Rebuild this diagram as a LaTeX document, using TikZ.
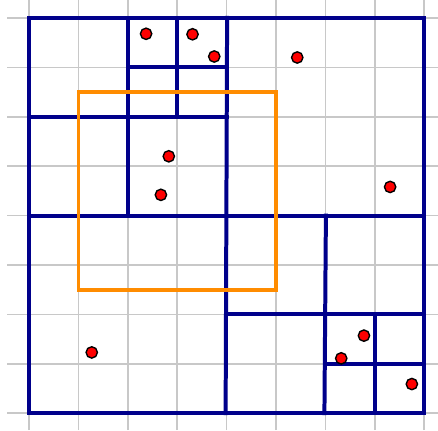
\documentclass[tikz,border=0pt]{standalone}
\usetikzlibrary{calc}
\definecolor{gridgray}{RGB}{200,200,200}
\definecolor{qblue}{RGB}{0,0,139}
\definecolor{qorange}{RGB}{255,140,0}
\definecolor{ptred}{RGB}{255,0,0}
\tikzset{
  gridline/.style={draw=gridgray, line width=0.9pt},
  qline/.style={draw=qblue, line width=2.3pt, line cap=rect},
  query/.style={draw=qorange, line width=2.1pt},
  pt/.style={circle, fill=ptred, draw=black, line width=0.8pt, minimum size=0.23cm, inner sep=0pt},
}
\begin{document}
\begin{tikzpicture}[x=1cm,y=1cm]
\useasboundingbox (-0.587,-0.343) rectangle (8.279,8.364);
% grid
\foreach \i in {0,...,8} {
  \draw[gridline] (\i,-0.343) -- (\i,8.364);
  \draw[gridline] (-0.445,\i) -- (8.279,\i);
}
% quadtree
\coordinate (bl) at (0,0);
\coordinate (tr) at (8,8);
\draw[qline] (bl) rectangle (tr);
\draw[qline] (3.98,0) -- (4.01,8);
\draw[qline] (0,4) -- (8,4);
\draw[qline] (2,4) -- (2,8);
\draw[qline] (0,6) -- (4,6);
\draw[qline] (3,6) -- (3,8);
\draw[qline] (2,7) -- (4,7);
\draw[qline] (5.98,0) -- (6.01,4);
\draw[qline] (4,2) -- (8,2);
\draw[qline] (7,0) -- (7,2);
\draw[qline] (6,1) -- (8,1);
% query rectangle
\coordinate (q1) at (1,2.5);
\coordinate (q2) at (5,6.5);
\draw[query] (q1) rectangle (q2);
% points
\node[pt] (p1) at (2.37,7.68) {};
\node[pt] (p2) at (3.31,7.67) {};
\node[pt] (p3) at (3.75,7.22) {};
\node[pt] (p4) at (5.43,7.20) {};
\node[pt] (p5) at (2.83,5.20) {};
\node[pt] (p6) at (2.67,4.42) {};
\node[pt] (p7) at (7.31,4.58) {};
\node[pt] (p8) at (1.27,1.23) {};
\node[pt] (p9) at (6.78,1.57) {};
\node[pt] (p10) at (6.32,1.11) {};
\node[pt] (p11) at (7.75,0.59) {};
\end{tikzpicture}
\end{document}
